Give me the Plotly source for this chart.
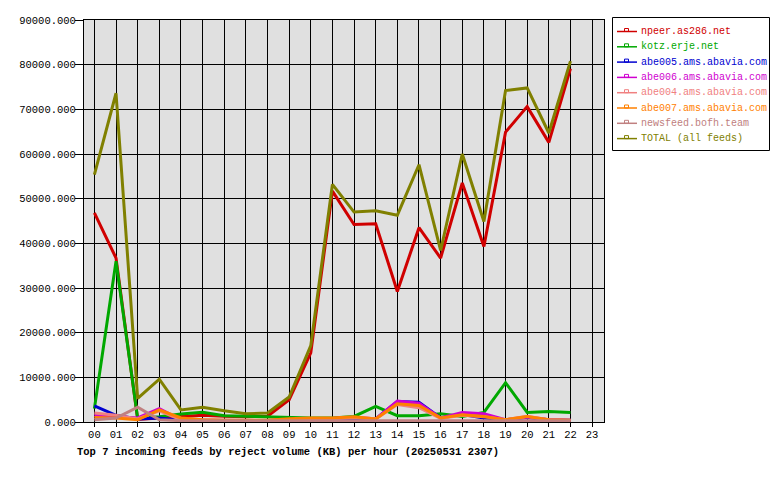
import plotly.graph_objects as go

hours = list(range(24))
hour_labels = ["%02d" % h for h in hours]
data_hours = list(range(23))  # 00..22

npeer = [46800, 36700, 600, 900, 1100, 1500, 1300, 1200, 1300, 5000, 15500, 51700,
         44200, 44400, 29200, 43500, 36700, 53500, 39300, 64900, 70600, 62600, 79100]
kotz = [3000, 36000, 800, 1200, 1800, 2200, 1400, 1250, 1100, 960, 900, 900,
        1250, 3500, 1400, 1400, 1850, 1250, 2150, 8800, 2150, 2350, 2150]
abe005 = [3600, 1500, 700, 900, 400, 350, 300, 300, 300, 300, 350, 400,
          700, 700, 4600, 4400, 900, 1700, 900, 500, 1000, 500, 400]
abe006 = [1500, 1250, 900, 3000, 500, 400, 350, 350, 350, 400, 600, 800,
          1000, 700, 4700, 4200, 900, 2150, 1850, 500, 1100, 500, 400]
abe004 = [2000, 1500, 700, 2500, 500, 400, 350, 350, 350, 400, 600, 700,
          1000, 700, 3900, 3200, 800, 1500, 1200, 500, 1300, 500, 400]
abe007 = [1000, 900, 500, 2700, 900, 500, 400, 400, 400, 700, 900, 900,
          1200, 700, 4100, 3700, 900, 1600, 1250, 500, 1250, 500, 400]
newsfeed = [500, 900, 3300, 500, 300, 300, 300, 300, 300, 300, 300, 300,
            300, 300, 300, 300, 300, 300, 300, 300, 300, 300, 300]
total = [55400, 73600, 5300, 9600, 2700, 3300, 2500, 1850, 2000, 5600, 17100, 53200,
         47000, 47300, 46300, 57600, 38400, 60000, 44900, 74200, 74800, 64700, 80800]

series_names = ["npeer.as286.net", "kotz.erje.net", "abe005.ams.abavia.com",
                "abe006.ams.abavia.com", "abe004.ams.abavia.com",
                "abe007.ams.abavia.com", "newsfeed.bofh.team", "TOTAL (all feeds)"]
series_values = [npeer, kotz, abe005, abe006, abe004, abe007, newsfeed, total]
series_colors = ["#d00000", "#00a800", "#0000d0", "#d000d0", "#f08080",
                 "#ff8000", "#c08080", "#808000"]

FONT = "Liberation Mono, DejaVu Sans Mono, monospace"

W, H = 780, 480
ML, MR, MT, MB = 84, 176, 20, 58
PW, PH = W - ML - MR, H - MT - MB


def px(x):
    return (x - ML) / PW


def py(y):
    return (H - MB - y) / PH


fig = go.Figure()
for name, vals, col in zip(series_names, series_values, series_colors):
    fig.add_trace(go.Scatter(
        x=data_hours, y=vals, mode="lines", name=name,
        line=dict(color=col, width=3), showlegend=False,
    ))

shapes = []
annotations = []
# legend box
shapes.append(dict(type="rect", xref="paper", yref="paper",
                   x0=px(612.5), x1=px(769.5), y0=py(150.5), y1=py(17.5),
                   line=dict(color="black", width=1), fillcolor="white"))
for i, (name, col) in enumerate(zip(series_names, series_colors)):
    ly = 31.5 + i * 15.3
    shapes.append(dict(type="line", xref="paper", yref="paper",
                       x0=px(617), x1=px(637), y0=py(ly), y1=py(ly),
                       line=dict(color=col, width=1.5)))
    shapes.append(dict(type="rect", xref="paper", yref="paper",
                       x0=px(624.5), x1=px(628.5), y0=py(ly), y1=py(ly - 3),
                       line=dict(color=col, width=1)))
    annotations.append(dict(text=name, xref="paper", yref="paper",
                            x=px(639), y=py(ly), xanchor="left", yanchor="middle",
                            showarrow=False,
                            font=dict(family=FONT, size=10, color=col)))

annotations.append(dict(
    text="<b>Top 7 incoming feeds by reject volume (KB) per hour (20250531 2307)</b>",
    xref="paper", yref="paper", x=px(75), y=py(452),
    xanchor="left", yanchor="middle", showarrow=False,
    font=dict(family=FONT, size=10.5, color="black"),
))

fig.update_layout(
    width=W, height=H,
    margin=dict(l=ML, r=MR, t=MT, b=MB, autoexpand=False),
    paper_bgcolor="white",
    plot_bgcolor="#e0e0e0",
    font=dict(family=FONT, size=10, color="black"),
    showlegend=False,
    shapes=shapes,
    annotations=annotations,
)
fig.update_xaxes(
    range=[-0.48, 23.55], tickmode="array", tickvals=hours, ticktext=hour_labels,
    showgrid=True, gridcolor="black", gridwidth=1,
    showline=True, linecolor="black", linewidth=1, mirror=True,
    ticks="outside", ticklen=4, tickcolor="black", zeroline=False,
    automargin=False, tickfont=dict(size=10.5), ticklabelstandoff=-2,
)
fig.update_yaxes(
    range=[0, 90000], dtick=10000, tickformat=".3f",
    showgrid=True, gridcolor="black", gridwidth=1,
    showline=True, linecolor="black", linewidth=1, mirror=True,
    ticks="outside", ticklen=8, tickcolor="black", zeroline=False,
    automargin=False, tickfont=dict(size=10.5), ticklabelstandoff=-3,
)

fig.write_html("out.html",
               config={"displayModeBar": False},
               post_script="document.body.style.margin='0';document.body.style.padding='0';")
